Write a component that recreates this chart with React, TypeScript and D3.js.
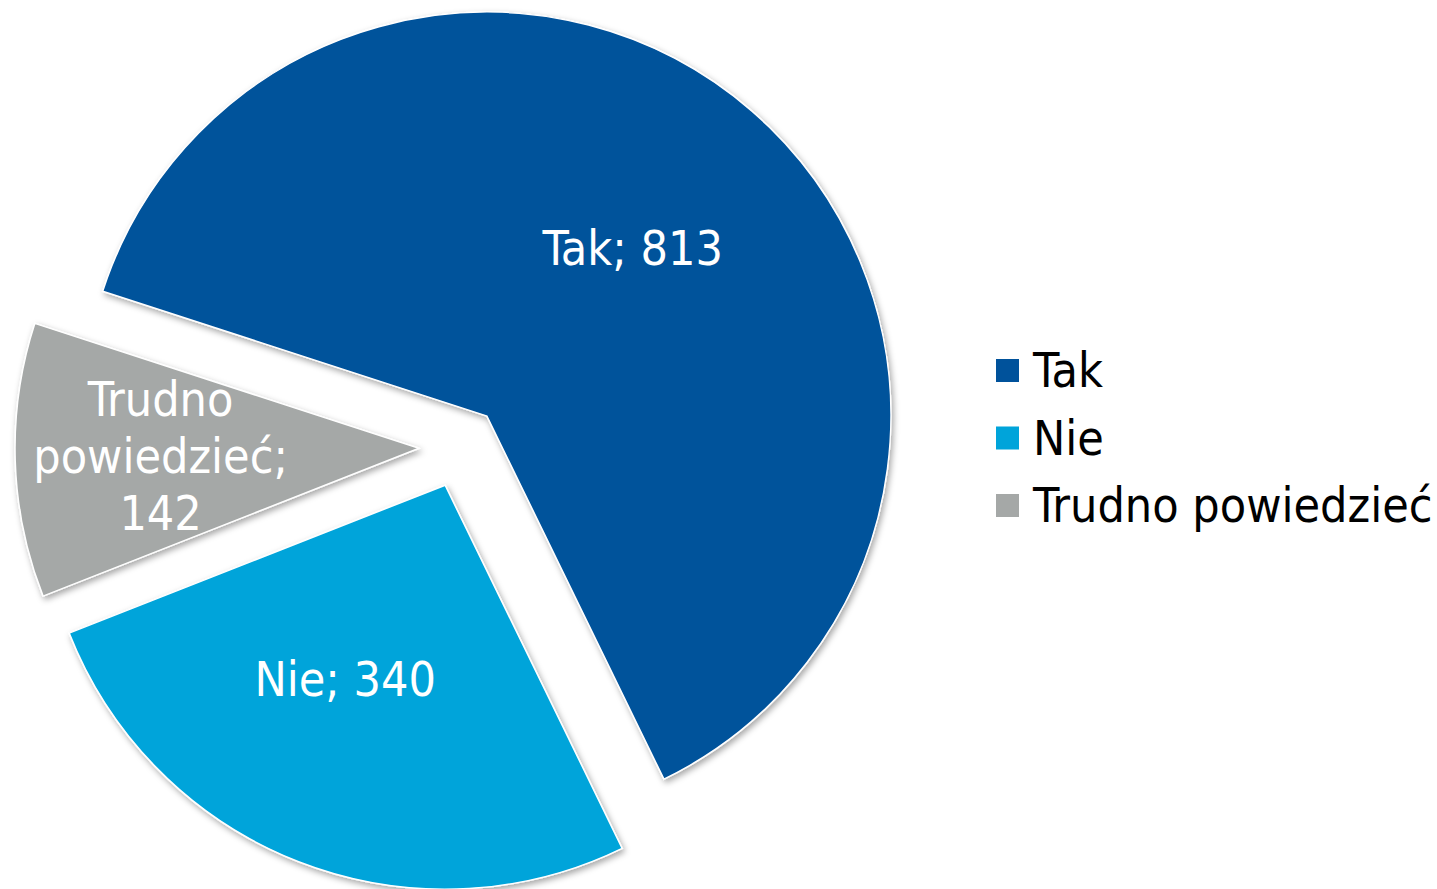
import React from "react";
import * as d3 from "d3";

const categories = ["Tak", "Nie", "Trudno powiedzieć"];
const values = [813, 340, 142];
const colors = ["#00529B", "#00A4DA", "#A5A8A7"];
const sliceLabels = [["Tak; 813"], ["Nie; 340"], ["Trudno", "powiedzieć;", "142"]];
const labelRadius = [0.55, 0.54, 0.64];
const labelAngleShift = [0, 6, 0];

const W = 1437;
const H = 889;
const cx = 460;
const cy = 447;
const R = 404;
const explode = 41;
const FONT = "'DejaVu Sans Condensed', 'DejaVu Sans', Tahoma, sans-serif";

export default function App() {
  const pie = d3
    .pie<number>()
    .sort(null)
    .startAngle((288 * Math.PI) / 180)
    .endAngle((288 * Math.PI) / 180 + 2 * Math.PI);
  const arcs = pie(values);
  const arc = d3.arc<d3.PieArcDatum<number>>().innerRadius(0).outerRadius(R);

  return (
    <svg
      width={W}
      height={H}
      style={{ position: "absolute", left: 0, top: 0, background: "#fff" }}
      fontFamily={FONT}
    >
      <defs>
        <filter id="sh" x="-20%" y="-20%" width="140%" height="140%">
          <feDropShadow dx="2" dy="3" stdDeviation="3" floodColor="#000" floodOpacity="0.35" />
        </filter>
      </defs>
      {arcs.map((a, i) => {
        const mid = (a.startAngle + a.endAngle) / 2;
        const ox = cx + explode * Math.sin(mid);
        const oy = cy - explode * Math.cos(mid);
        const la = mid + (labelAngleShift[i] * Math.PI) / 180;
        const lr = labelRadius[i] * R;
        const lx = lr * Math.sin(la);
        const ly = -lr * Math.cos(la);
        const lines = sliceLabels[i];
        const lh = 57;
        return (
          <g key={i} transform={`translate(${ox},${oy})`}>
            <path d={arc(a) || ""} fill={colors[i]} stroke="#fff" strokeWidth={1.5} filter="url(#sh)" />
            <text x={lx} y={ly} textAnchor="middle" fill="#fff" fontSize={48}>
              {lines.map((t, j) => (
                <tspan key={j} x={lx} y={ly + 17 + (j - (lines.length - 1) / 2) * lh}>
                  {t}
                </tspan>
              ))}
            </text>
          </g>
        );
      })}
      <g transform="translate(996,359)">
        {categories.map((c, i) => (
          <g key={c} transform={`translate(0,${i * 67.5})`}>
            <rect x={0} y={0} width={23} height={23} fill={colors[i]} />
            <text x={37} y={28} fontSize={48} fill="#000">
              {c}
            </text>
          </g>
        ))}
      </g>
    </svg>
  );
}
